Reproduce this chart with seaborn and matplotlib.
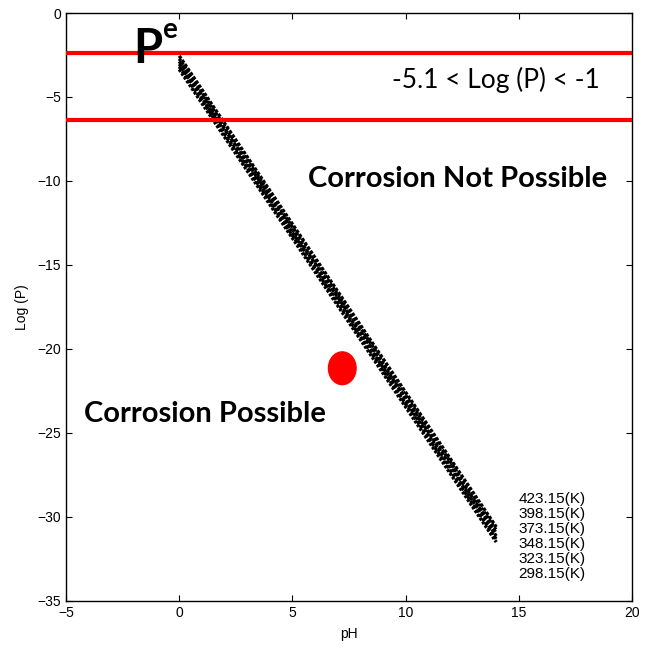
import numpy as np
import pandas as pd
import matplotlib
matplotlib.use("Agg")
import matplotlib.pyplot as plt
import seaborn as sns
from matplotlib.patches import Ellipse
from matplotlib.lines import Line2D

# ---- data ----
temperatures = ["423.15(K)", "398.15(K)", "373.15(K)", "348.15(K)", "323.15(K)", "298.15(K)"]
ph_ends = [0.0, 14.0]
logp_start = [-2.55, -2.72, -2.88, -3.04, -3.20, -3.36]   # Log(P) at pH 0
logp_end = [-30.6, -30.78, -30.96, -31.14, -31.32, -31.5]  # Log(P) at pH 14
limit_lines = [-2.36, -6.34]
point_ph = [7.2]
point_logp = [-21.15]
xticks = [-5, 0, 5, 10, 15, 20]
yticks = [0, -5, -10, -15, -20, -25, -30, -35]

rows = []
for t, a, b in zip(temperatures, logp_start, logp_end):
    rows.append({"T": t, "pH": ph_ends[0], "logP": a})
    rows.append({"T": t, "pH": ph_ends[1], "logP": b})
df = pd.DataFrame(rows)

sns.set_style("white")
plt.rcParams["font.family"] = ["Liberation Sans", "DejaVu Sans"]
plt.rcParams["text.color"] = "black"
plt.rcParams["axes.labelcolor"] = "black"
plt.rcParams["xtick.color"] = "black"
plt.rcParams["ytick.color"] = "black"

fig = plt.figure(figsize=(6.47, 6.51), dpi=100)
ax = fig.add_axes([0.102, 0.077, 0.875, 0.903])

sns.lineplot(data=df, x="pH", y="logP", hue="T", hue_order=temperatures,
             palette=["black"] * 6, legend=False, ax=ax, linewidth=2.4)
dash_sets = [[1.0, 0.5], [0.8, 0.6], [1.1, 0.45], [0.9, 0.55], [1.0, 0.6], [0.85, 0.5]]
for ln, d in zip(ax.lines, dash_sets):
    ln.set_dashes(d)
    ln.set_dash_capstyle("butt")

for y in limit_lines:
    ax.axhline(y, color="#ff0000", lw=3.0, zorder=5)

for px, py in zip(point_ph, point_logp):
    ax.add_patch(Ellipse((px, py), width=1.22, height=1.95, color="#ff0000", zorder=6))

ax.set_xlim(-5, 20)
ax.set_ylim(-35, 0)
ax.set_xticks(xticks)
ax.set_yticks(yticks)
ax.tick_params(direction="in", length=4, width=0.8, labelsize=10,
               top=True, right=True, bottom=True, left=True, colors="black")
for s in ax.spines.values():
    s.set_color("black")
    s.set_linewidth(1.0)
    s.set_visible(True)
ax.set_xlabel("pH", fontsize=10, labelpad=5, color="black")
ax.set_ylabel("Log (P)", fontsize=10, labelpad=6, color="black")

big = ["Lato", "DejaVu Sans"]
ax.text(-2.05, -2.15, "P", fontsize=34, fontweight="bold", family=big,
        ha="left", va="center", zorder=7, color="black")
ax.text(-0.75, -1.0, "e", fontsize=20, fontweight="bold", family=big,
        ha="left", va="center", zorder=7, color="black")
ax.text(9.4, -4.0, "-5.1 < Log (P) < -1", fontsize=19, family=big,
        ha="left", va="center", color="black")
ax.text(5.7, -9.9, "Corrosion Not Possible", fontsize=21, fontweight="bold",
        family=big, ha="left", va="center", color="black")
ax.text(-4.2, -23.9, "Corrosion Possible", fontsize=21, fontweight="bold",
        family=big, ha="left", va="center", color="black")

handles = [Line2D([], [], color="black", lw=0) for _ in temperatures]
leg = ax.legend(handles, temperatures, loc="upper left", bbox_to_anchor=(0.799, 0.185),
                frameon=False, handlelength=0, handletextpad=0, borderpad=0,
                borderaxespad=0, labelspacing=0.06, fontsize=11)
for t in leg.get_texts():
    t.set_color("black")

fig.savefig("out.png", dpi=100)
